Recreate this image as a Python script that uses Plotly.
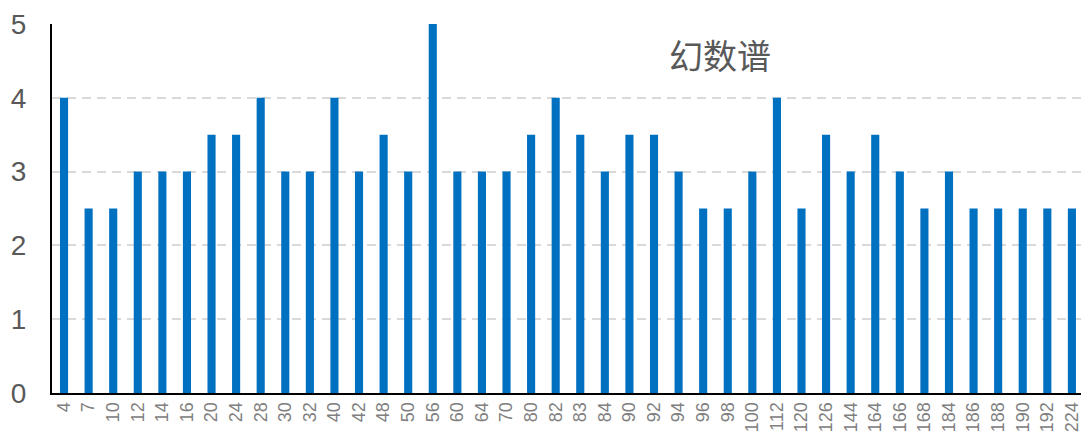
import plotly.graph_objects as go

categories = ["4", "7", "10", "12", "14", "16", "20", "24", "28", "30", "32", "40", "42", "48", "50",
              "56", "60", "64", "70", "80", "82", "83", "84", "90", "92", "94", "96", "98", "100",
              "112", "120", "126", "144", "164", "166", "168", "184", "186", "188", "190", "192", "224"]
values = [4, 2.5, 2.5, 3, 3, 3, 3.5, 3.5, 4, 3, 3, 4, 3, 3.5, 3,
          5, 3, 3, 3, 3.5, 4, 3.5, 3, 3.5, 3.5, 3, 2.5, 2.5, 3,
          4, 2.5, 3.5, 3, 3.5, 3, 2.5, 3, 2.5, 2.5, 2.5, 2.5, 2.5]
title_text = "幻数谱"

fig = go.Figure(go.Bar(x=categories, y=values, marker_color="#0070C0", marker_line_width=0,
                       width=0.33))

fig.update_layout(
    width=1081, height=439,
    margin=dict(l=52, r=0, t=24, b=46, autoexpand=False),
    paper_bgcolor="white", plot_bgcolor="white",
    showlegend=False,
    font=dict(family="Liberation Sans, Arial, sans-serif", color="#595959"),
    annotations=[dict(text=title_text, x=0.649, xref="paper", y=0.916, yref="paper",
                      showarrow=False, xanchor="center", yanchor="middle",
                      font=dict(size=34, color="#595959", family="Noto Sans CJK SC"))],
)
fig.update_xaxes(type="category", tickangle=-90, tickfont=dict(size=18, color="#808080"),
                 range=[-0.49, 41.37], automargin=False,
                 showline=True, linecolor="black", linewidth=2, ticks="", showgrid=False)
fig.update_yaxes(range=[0, 5], dtick=1, tickfont=dict(size=28, color="#595959"),
                 automargin=False, ticklabelstandoff=18,
                 showline=True, linecolor="black", linewidth=2, ticks="",
                 showgrid=True, gridcolor="#D9D9D9", griddash="9px,6px", gridwidth=1.5,
                 zeroline=False)

fig.write_html("out.html", config={"displayModeBar": False},
               post_script="document.body.style.margin='0';document.body.style.overflow='hidden';")
